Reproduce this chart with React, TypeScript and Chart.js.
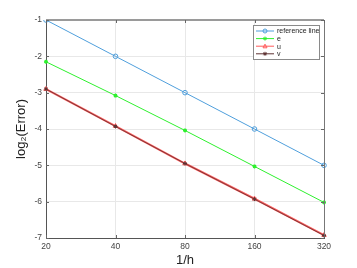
import React, { useEffect, useRef } from "react";
import { Chart, registerables } from "chart.js";

Chart.register(...registerables);

const categories = ["20", "40", "80", "160", "320"];
const referenceLine = [-1, -2, -3, -4, -5];
const eValues = [-2.15, -3.08, -4.04, -5.03, -6.02];
const uValues = [-2.9, -3.92, -4.95, -5.92, -6.92];
const vValues = [-2.9, -3.93, -4.95, -5.93, -6.93];
const yTicks = [-1, -2, -3, -4, -5, -6, -7];

const FONT = "'Liberation Sans', Arial, sans-serif";

function drawMarker(ctx: CanvasRenderingContext2D, style: string, x: number, y: number, r: number) {
  ctx.beginPath();
  if (style === "circle") {
    ctx.arc(x, y, r, 0, Math.PI * 2);
    ctx.stroke();
  } else if (style === "triangle") {
    ctx.moveTo(x, y - r);
    ctx.lineTo(x + r, y + r * 0.8);
    ctx.lineTo(x - r, y + r * 0.8);
    ctx.closePath();
    ctx.stroke();
  } else if (style === "star") {
    for (let k = 0; k < 4; k++) {
      const a = (k * Math.PI) / 4;
      ctx.moveTo(x - Math.cos(a) * r, y - Math.sin(a) * r);
      ctx.lineTo(x + Math.cos(a) * r, y + Math.sin(a) * r);
    }
    ctx.stroke();
  } else {
    ctx.rect(x - r, y - r, 2 * r, 2 * r);
    ctx.stroke();
  }
}

const frameLegendPlugin = {
  id: "frameLegend",
  afterDraw(chart: any) {
    const { ctx, chartArea } = chart;
    const { left, right, top, bottom } = chartArea;
    ctx.save();
    ctx.strokeStyle = "#9a9a9a";
    ctx.lineWidth = 2;
    ctx.beginPath();
    ctx.moveTo(left, top);
    ctx.lineTo(right, top);
    ctx.stroke();
    ctx.strokeStyle = "#777";
    ctx.lineWidth = 1;
    ctx.beginPath();
    ctx.moveTo(right + 0.5, top);
    ctx.lineTo(right + 0.5, bottom);
    ctx.stroke();
    const xs = chart.scales.x;
    const ys = chart.scales.y;
    ctx.strokeStyle = "#666";
    ctx.beginPath();
    categories.forEach((_, i) => {
      const px = Math.round(xs.getPixelForValue(i)) + 0.5;
      ctx.moveTo(px, bottom);
      ctx.lineTo(px, bottom - 3);
      ctx.moveTo(px, top);
      ctx.lineTo(px, top + 3);
    });
    yTicks.forEach((v) => {
      const py = Math.round(ys.getPixelForValue(v)) + 0.5;
      ctx.moveTo(left, py);
      ctx.lineTo(left + 3, py);
      ctx.moveTo(right, py);
      ctx.lineTo(right - 3, py);
    });
    ctx.stroke();

    const bx = 253, by = 25, bw = 66, bh = 34;
    ctx.fillStyle = "#fff";
    ctx.fillRect(bx, by, bw, bh);
    ctx.strokeStyle = "#8a8a8a";
    ctx.lineWidth = 1;
    ctx.strokeRect(bx + 0.5, by + 0.5, bw, bh);
    ctx.font = `7px ${FONT}`;
    ctx.textBaseline = "middle";
    chart.data.datasets.forEach((ds: any, i: number) => {
      const y = by + 6 + i * 7.6;
      ctx.strokeStyle = ds.borderColor;
      ctx.lineWidth = 1;
      ctx.beginPath();
      ctx.moveTo(bx + 3, y);
      ctx.lineTo(bx + 21, y);
      ctx.stroke();
      ctx.strokeStyle = ds.borderColor;
      ctx.lineWidth = 1;
      drawMarker(ctx, ds.pointStyle, bx + 12, y, 2);
      ctx.fillStyle = "#222";
      ctx.fillText(ds.label, bx + 24, y + 0.5);
    });
    ctx.restore();
  },
};

export default function App() {
  const ref = useRef<HTMLCanvasElement>(null);
  useEffect(() => {
    document.body.style.margin = "0";
    const chart = new Chart(ref.current!, {
      type: "line",
      data: {
        labels: categories,
        datasets: [
          {
            label: "reference line",
            data: referenceLine,
            borderColor: "#4f9fdc",
            backgroundColor: "rgba(0,0,0,0)",
            borderWidth: 1,
            pointStyle: "circle",
            pointRadius: 2.3,
            pointBorderWidth: 1,
            order: 0,
          },
          {
            label: "e",
            data: eValues,
            borderColor: "#2ef02e",
            backgroundColor: "#2ef02e",
            borderWidth: 1,
            pointStyle: "star",
            pointRadius: 2,
            pointBorderWidth: 1.2,
            order: 0,
          },
          {
            label: "u",
            data: uValues,
            borderColor: "#ff5a5a",
            backgroundColor: "rgba(0,0,0,0)",
            borderWidth: 2,
            pointStyle: "triangle",
            pointRadius: 2.6,
            pointBorderWidth: 1,
            order: 2,
          },
          {
            label: "v",
            data: vValues,
            borderColor: "#5e3232",
            backgroundColor: "rgba(0,0,0,0)",
            borderWidth: 0.8,
            pointStyle: "star",
            pointRadius: 2,
            pointBorderWidth: 1,
            order: 1,
          },
        ],
      },
      options: {
        animation: false,
        responsive: false,
        maintainAspectRatio: false,
        layout: { padding: { top: 20, right: 33, left: 0, bottom: 0 } },
        plugins: { legend: { display: false }, tooltip: { enabled: false } },
        elements: { line: { tension: 0 } },
        scales: {
          x: {
            type: "category",
            offset: false,
            grid: { color: "#e8e8e8", drawTicks: false, offset: false },
            border: { color: "#555", width: 1 },
            ticks: { color: "#444", font: { family: FONT, size: 8.5 }, padding: 4, maxRotation: 0 },
            title: { display: true, text: "1/h", color: "#222", font: { family: FONT, size: 13 }, padding: { top: 0, bottom: 0 } },
            afterFit: (s: any) => { s.height = 30; },
          },
          y: {
            type: "linear",
            min: -7,
            max: -1,
            grid: { color: "#e8e8e8", drawTicks: false },
            border: { color: "#555", width: 1 },
            ticks: { stepSize: 1, color: "#444", font: { family: FONT, size: 8.5 }, padding: 4 },
            title: { display: true, text: "log₂(Error)", color: "#222", font: { family: FONT, size: 13 }, padding: { top: 14, bottom: 0 } },
            afterFit: (s: any) => { s.width = 46; },
          },
        },
      },
      plugins: [frameLegendPlugin],
    } as any);
    return () => chart.destroy();
  }, []);
  return (
    <div style={{ position: "fixed", left: 0, top: 0, width: 357, height: 268, background: "#fff" }}>
      <canvas ref={ref} width={357} height={268} />
    </div>
  );
}
